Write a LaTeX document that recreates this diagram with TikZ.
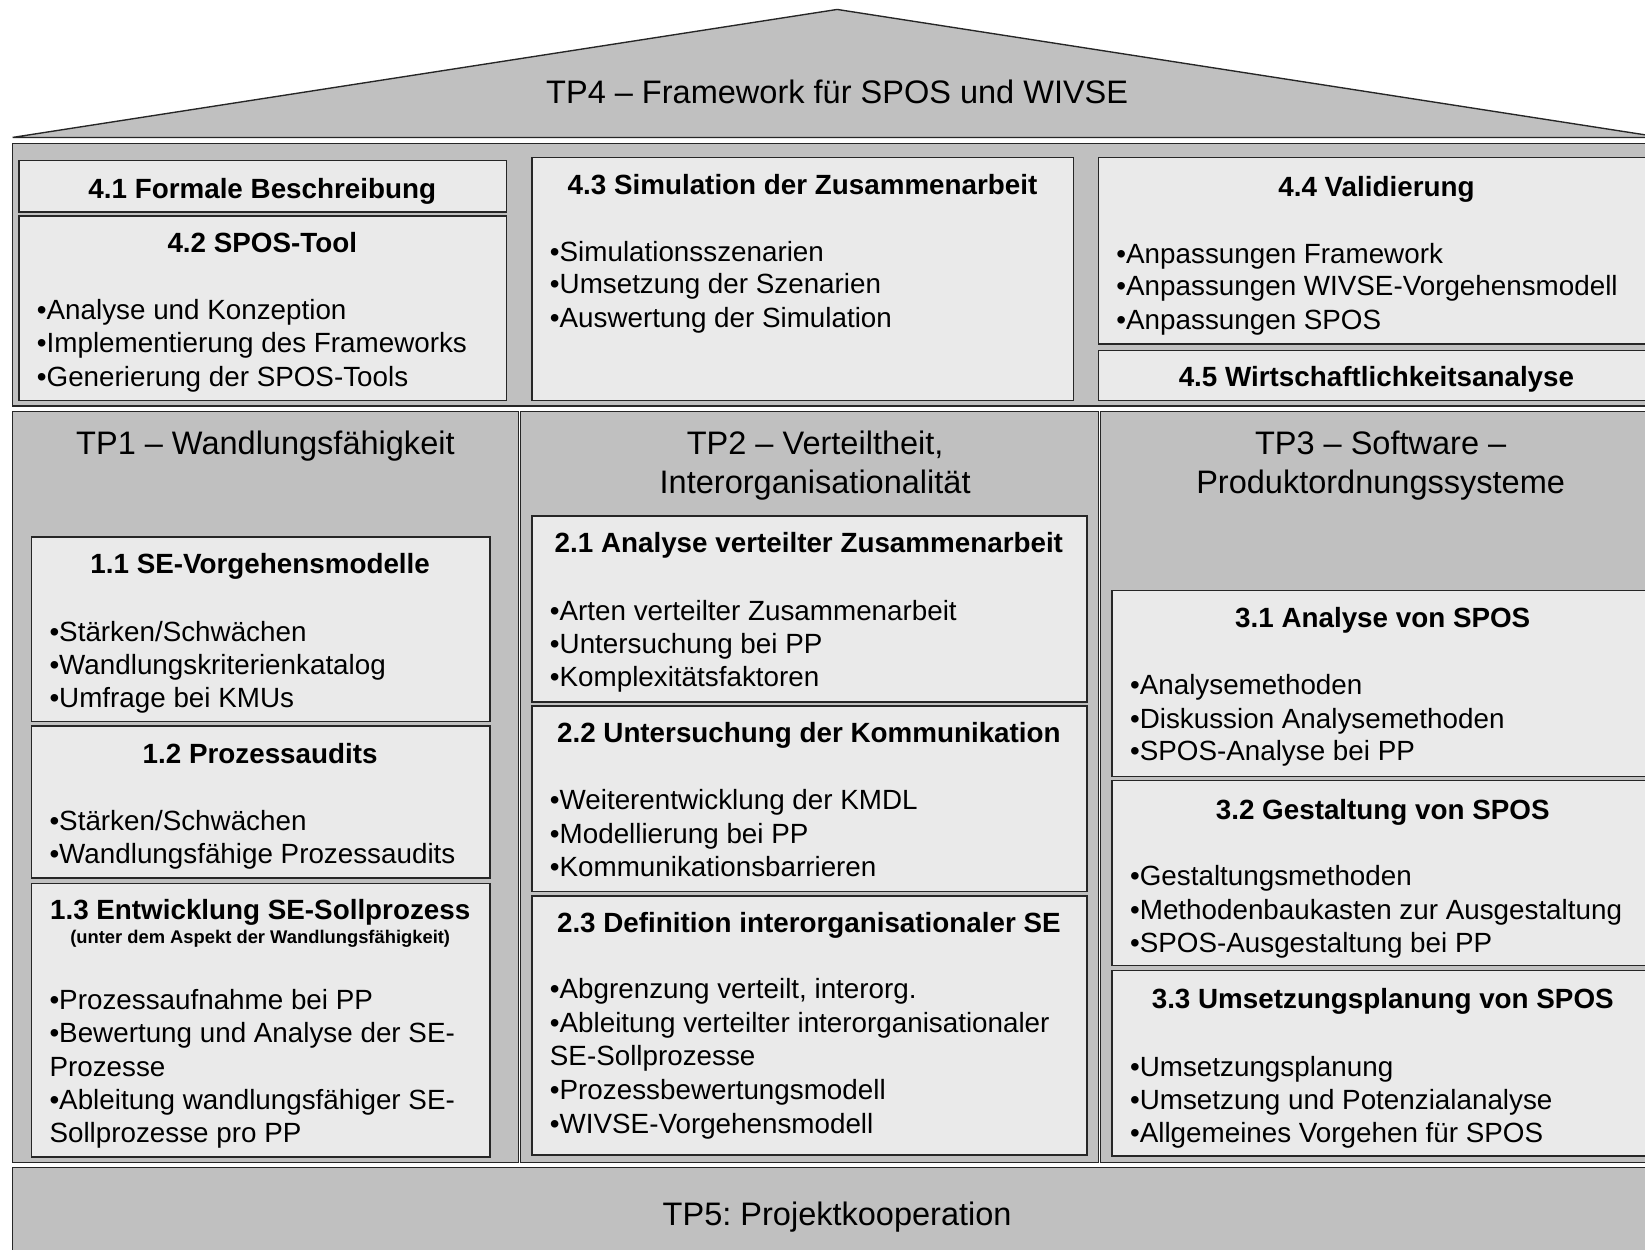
\documentclass[tikz,border=0pt]{standalone}
\usepackage{fontspec}
\setmainfont{Liberation Sans}
\frenchspacing
\definecolor{housegray}{RGB}{192,192,192}
\definecolor{boxgray}{RGB}{234,234,234}

\begin{document}
\begin{tikzpicture}[x=1pt,y=-1pt]
\tikzstyle{part} = [draw=black!85, line width=1.3pt, fill=housegray]
\tikzstyle{pack} = [draw=black!85, line width=1.3pt, fill=boxgray]
\tikzstyle{tptitle} = [inner sep=0pt, align=center, font=\fontsize{31}{37}\selectfont]
\tikzstyle{wptitle} = [anchor=base, inner sep=0pt, font=\fontsize{26.5}{32}\selectfont\bfseries]
\tikzstyle{note} = [anchor=base, inner sep=0pt, font=\fontsize{17.5}{20}\selectfont\bfseries]
\tikzstyle{item} = [anchor=base west, inner sep=0pt, font=\fontsize{26.5}{32}\selectfont]

\useasboundingbox (0,0) rectangle (1568,1191);
\fill[white] (0,0) rectangle (1568,1191);
\clip (0,0) rectangle (1568,1191);

% roof and parts
\draw[part] (12,131) -- (798,9) -- (1584,131) -- cycle;
\draw[part] (12,137) rectangle (1584,387);
\draw[part] (12,392) rectangle (494,1108);
\draw[part] (496,392) rectangle (1047,1108);
\draw[part] (1049,392) rectangle (1584,1108);
\draw[part] (12,1113) rectangle (1584,1210);

% work packages
\draw[pack] (18,153) rectangle (483,202);
\draw[pack] (18,206) rectangle (483,382);
\draw[pack] (507,150) rectangle (1023,382);
\draw[pack] (1047,150) rectangle (1577,328);
\draw[pack] (1047,334) rectangle (1577,382);
\draw[pack] (30,512) rectangle (467,688);
\draw[pack] (30,692) rectangle (467,837);
\draw[pack] (30,842) rectangle (467,1103);
\draw[pack] (507,492) rectangle (1036,669);
\draw[pack] (507,673) rectangle (1036,850);
\draw[pack] (507,854) rectangle (1036,1101);
\draw[pack] (1060,563) rectangle (1576,740);
\draw[pack] (1060,744) rectangle (1576,920);
\draw[pack] (1060,925) rectangle (1576,1102);

% TP titles
\node[tptitle, anchor=base] (tp4) at (798,99) {TP4 – Framework für SPOS und WIVSE};
\node[tptitle, anchor=base] (tp1) at (253,433) {TP1 – Wandlungsfähigkeit};
\node[tptitle] (tp2) at (777,444) {TP2 – Verteiltheit,\\Interorganisationalität};
\node[tptitle] (tp3) at (1316,444) {TP3 – Software –\\Produktordnungssysteme};
\node[tptitle, anchor=base] (tp5) at (798,1168) {TP5: Projektkooperation};

% TP4
\node[wptitle] (wp41) at (250,189) {4.1 Formale Beschreibung};
\node[wptitle] (wp42) at (250,241) {4.2 SPOS-Tool};
\node[item] (wp42a) at (35,305) {•Analyse und Konzeption};
\node[item] (wp42b) at (35,336) {•Implementierung des Frameworks};
\node[item] (wp42c) at (35,368) {•Generierung der SPOS-Tools};
\node[wptitle] (wp43) at (765,185) {4.3 Simulation der Zusammenarbeit};
\node[item] (wp43a) at (524,249) {•Simulationsszenarien};
\node[item] (wp43b) at (524,280) {•Umsetzung der Szenarien};
\node[item] (wp43c) at (524,312) {•Auswertung der Simulation};
\node[wptitle] (wp44) at (1312,187) {4.4 Validierung};
\node[item] (wp44a) at (1064,251) {•Anpassungen Framework};
\node[item] (wp44b) at (1064,282) {•Anpassungen WIVSE-Vorgehensmodell};
\node[item] (wp44c) at (1064,314) {•Anpassungen SPOS};
\node[wptitle] (wp45) at (1312,368) {4.5 Wirtschaftlichkeitsanalyse};

% TP1
\node[wptitle] (wp11) at (248,547) {1.1 SE-Vorgehensmodelle};
\node[item] (wp11a) at (47,611) {•Stärken/Schwächen};
\node[item] (wp11b) at (47,643) {•Wandlungskriterienkatalog};
\node[item] (wp11c) at (47,674) {•Umfrage bei KMUs};
\node[wptitle] (wp12) at (248,728) {1.2 Prozessaudits};
\node[item] (wp12a) at (47,792) {•Stärken/Schwächen};
\node[item] (wp12b) at (47,823) {•Wandlungsfähige Prozessaudits};
\node[wptitle] (wp13) at (248,876) {1.3 Entwicklung SE-Sollprozess};
\node[note] (wp13n) at (248,899) {(unter dem Aspekt der Wandlungsfähigkeit)};
\node[item] (wp13a) at (47,962) {•Prozessaufnahme bei PP};
\node[item] (wp13b) at (47,994) {•Bewertung und Analyse der SE-};
\node[item] (wp13c) at (47,1026) {Prozesse};
\node[item] (wp13d) at (47,1058) {•Ableitung wandlungsfähiger SE-};
\node[item] (wp13e) at (47,1089) {Sollprozesse pro PP};

% TP2
\node[wptitle] (wp21) at (771,527) {2.1 Analyse verteilter Zusammenarbeit};
\node[item] (wp21a) at (524,591) {•Arten verteilter Zusammenarbeit};
\node[item] (wp21b) at (524,623) {•Untersuchung bei PP};
\node[item] (wp21c) at (524,654) {•Komplexitätsfaktoren};
\node[wptitle] (wp22) at (771,708) {2.2 Untersuchung der Kommunikation};
\node[item] (wp22a) at (524,772) {•Weiterentwicklung der KMDL};
\node[item] (wp22b) at (524,804) {•Modellierung bei PP};
\node[item] (wp22c) at (524,835) {•Kommunikationsbarrieren};
\node[wptitle] (wp23) at (771,889) {2.3 Definition interorganisationaler SE};
\node[item] (wp23a) at (524,952) {•Abgrenzung verteilt, interorg.};
\node[item] (wp23b) at (524,984) {•Ableitung verteilter interorganisationaler};
\node[item] (wp23c) at (524,1016) {SE-Sollprozesse};
\node[item] (wp23d) at (524,1048) {•Prozessbewertungsmodell};
\node[item] (wp23e) at (524,1080) {•WIVSE-Vorgehensmodell};

% TP3
\node[wptitle] (wp31) at (1318,598) {3.1 Analyse von SPOS};
\node[item] (wp31a) at (1077,662) {•Analysemethoden};
\node[item] (wp31b) at (1077,694) {•Diskussion Analysemethoden};
\node[item] (wp31c) at (1077,725) {•SPOS-Analyse bei PP};
\node[wptitle] (wp32) at (1318,781) {3.2 Gestaltung von SPOS};
\node[item] (wp32a) at (1077,844) {•Gestaltungsmethoden};
\node[item] (wp32b) at (1077,876) {•Methodenbaukasten zur Ausgestaltung};
\node[item] (wp32c) at (1077,908) {•SPOS-Ausgestaltung bei PP};
\node[wptitle] (wp33) at (1318,961) {3.3 Umsetzungsplanung von SPOS};
\node[item] (wp33a) at (1077,1026) {•Umsetzungsplanung};
\node[item] (wp33b) at (1077,1058) {•Umsetzung und Potenzialanalyse};
\node[item] (wp33c) at (1077,1089) {•Allgemeines Vorgehen für SPOS};
\end{tikzpicture}
\end{document}
